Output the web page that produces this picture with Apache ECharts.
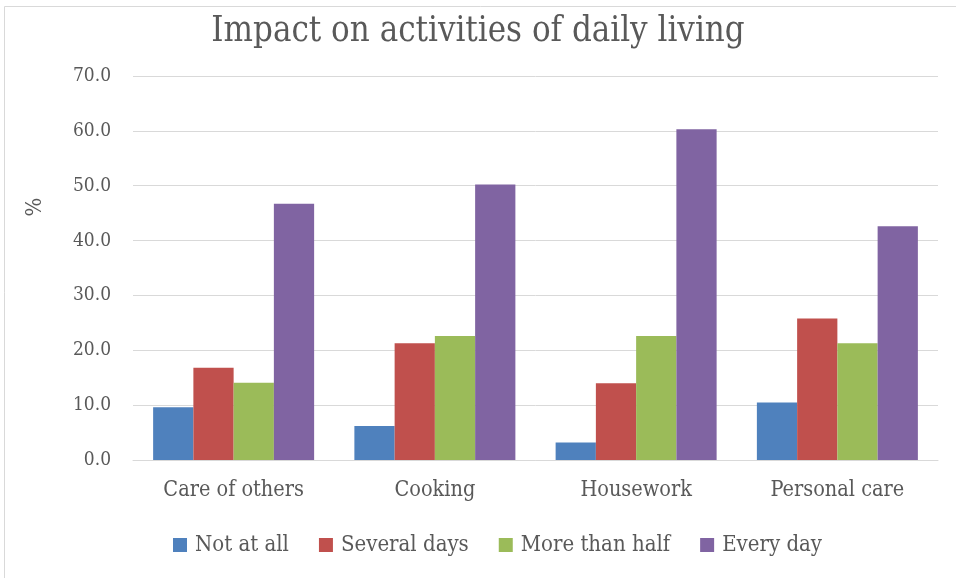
<!DOCTYPE html>
<html>
<head>
<meta charset="utf-8">
<script src="https://cdn.jsdelivr.net/npm/echarts@6/dist/echarts.min.js"></script>
<style>
  html, body { margin: 0; padding: 0; background: #fff; }
  #main { width: 956px; height: 578px; }
</style>
</head>
<body>
<div id="main"></div>
<script>
// 数据
const categories = ['Care of others', 'Cooking', 'Housework', 'Personal care']
const seriesNames = ['Not at all', 'Several days', 'More than half', 'Every day']
const notAtAll = [9.6, 6.2, 3.2, 10.5]
const severalDays = [16.8, 21.3, 14.0, 25.8]
const moreThanHalf = [14.1, 22.6, 22.6, 21.3]
const everyDay = [46.7, 50.2, 60.3, 42.6]
const colors = ['#4f81bd', '#c0504d', '#9bbb59', '#8064a2']

const font = '"DejaVu Serif Condensed", "DejaVu Serif", serif'
const textColor = '#595959'

const myChart = echarts.init(document.getElementById('main'))

const values = [notAtAll, severalDays, moreThanHalf, everyDay]

myChart.setOption({
  animation: false,
  color: colors,
  title: {
    text: 'Impact on activities of daily living',
    left: 'center',
    top: 10,
    textStyle: {
      fontFamily: font,
      fontSize: 34.5,
      fontWeight: 'normal',
      color: textColor
    }
  },
  graphic: [
    // 外框
    {
      type: 'rect',
      shape: { x: 4.5, y: 6.5, width: 1000, height: 1000 },
      style: { fill: 'none', stroke: '#d9d9d9', lineWidth: 1 },
      silent: true
    },
    // 纵轴标题
    {
      type: 'text',
      x: 35,
      y: 207,
      rotation: Math.PI / 2,
      style: {
        text: '%',
        font: '22px ' + font,
        fill: textColor,
        align: 'center',
        verticalAlign: 'middle'
      },
      silent: true
    }
  ],
  legend: {
    bottom: 17,
    left: 168,
    itemWidth: 14,
    itemHeight: 14,
    itemGap: 30,
    icon: 'rect',
    textStyle: { fontFamily: font, fontSize: 22, color: textColor, padding: [0, 0, 0, 3] },
    data: seriesNames
  },
  grid: {
    left: 133,
    right: 18,
    top: 76,
    bottom: 118,
    outerBoundsMode: 'none'
  },
  xAxis: {
    type: 'category',
    data: categories,
    axisLine: { lineStyle: { color: '#d9d9d9' } },
    axisTick: { show: false },
    axisLabel: { fontFamily: font, fontSize: 21.5, color: textColor, margin: 19 }
  },
  yAxis: {
    type: 'value',
    min: 0,
    max: 70,
    interval: 10,
    axisLine: { show: false },
    axisTick: { show: false },
    splitLine: { lineStyle: { color: '#d9d9d9', width: 1 } },
    axisLabel: {
      fontFamily: font,
      fontSize: 19,
      color: textColor,
      margin: 22,
      formatter: v => v.toFixed(1)
    }
  },
  series: seriesNames.map((name, i) => ({
    name: name,
    type: 'bar',
    data: values[i],
    barGap: '0%',
    barCategoryGap: '20%'
  }))
})
</script>
</body>
</html>
